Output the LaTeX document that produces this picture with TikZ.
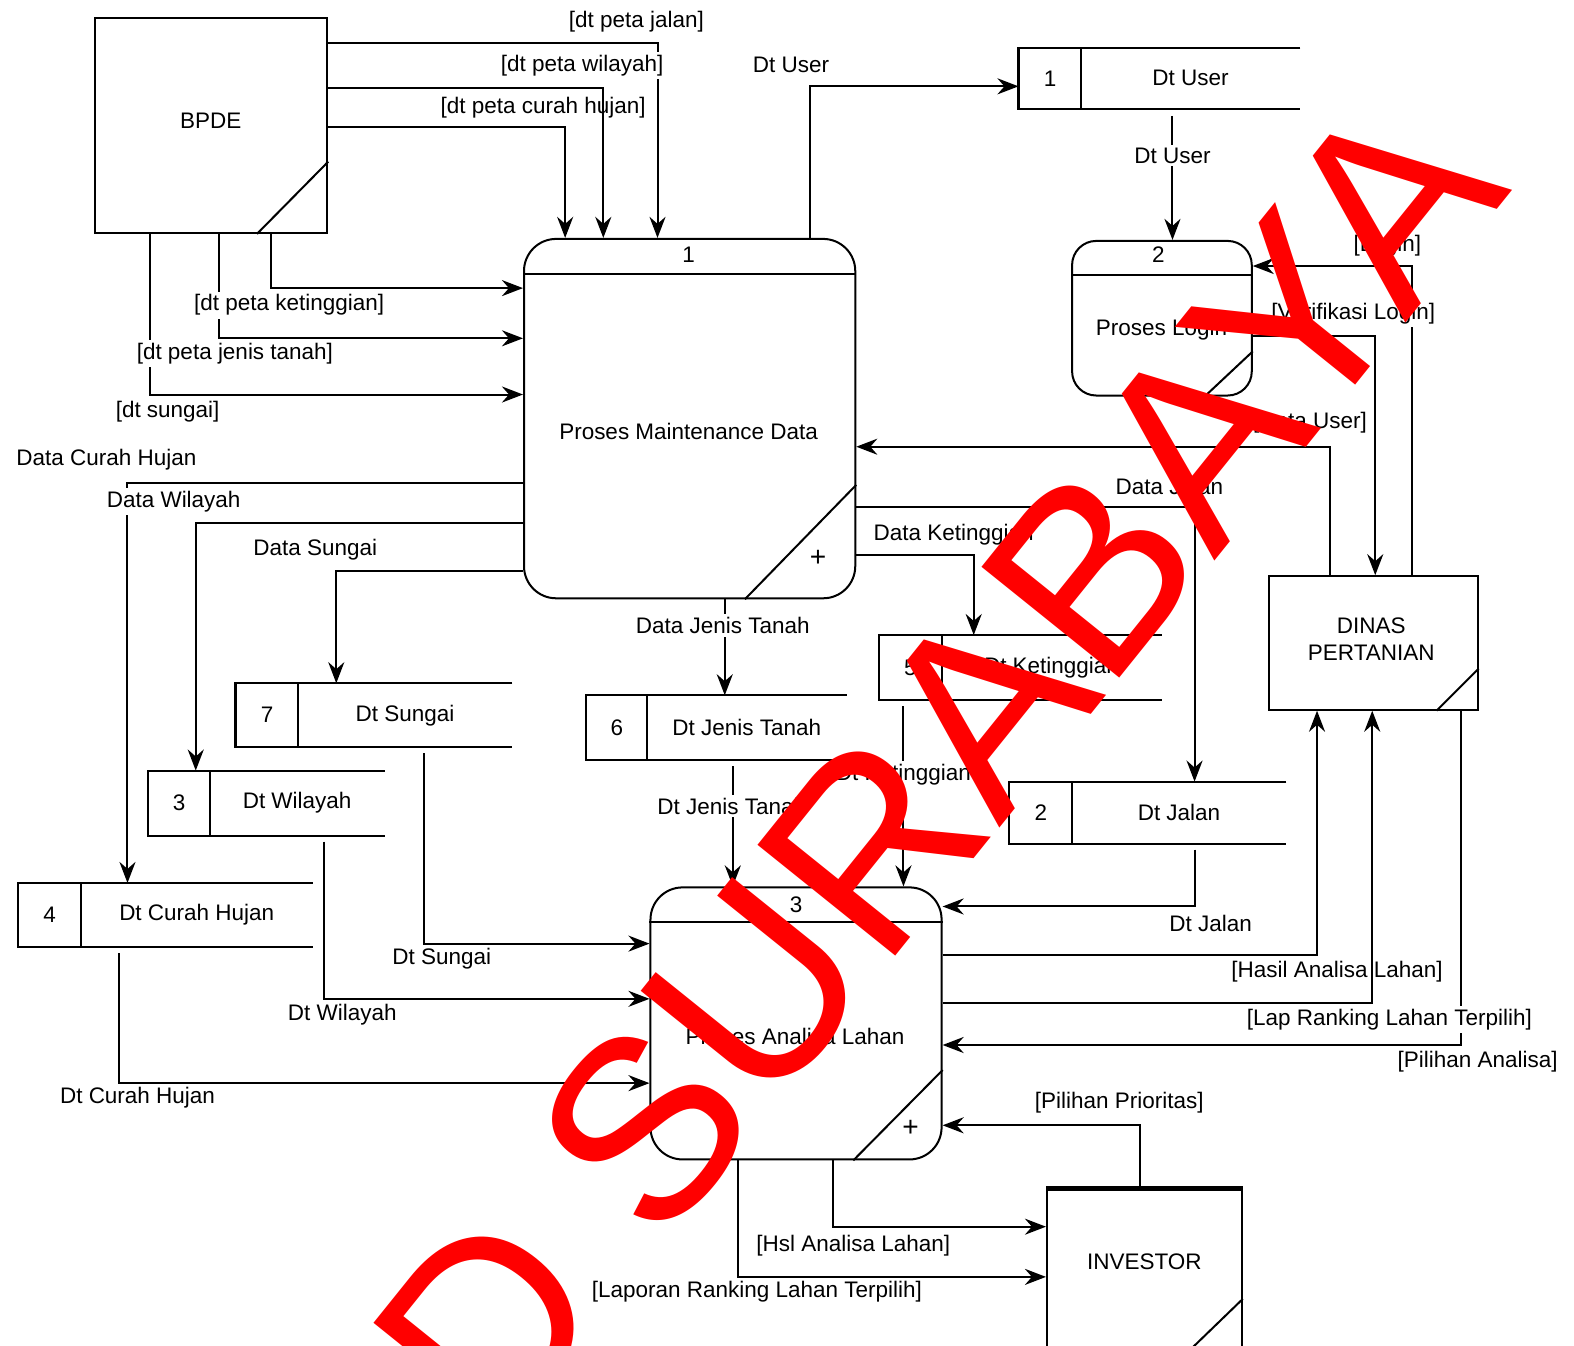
\documentclass[tikz,border=0pt]{standalone}
\usepackage{fontspec}
\setmainfont{Liberation Sans}
\usetikzlibrary{arrows.meta,calc}

% data store: name, left, divider, right, top, bottom, number, title
\newcommand\dstore[8]{%
  \node[minimum width={(#4-#2)*0.5pt}, minimum height={(#6-#5)*0.5pt}, inner sep=0pt]
    (#1) at ({(#2+#4)/2},{(#5+#6)/2}) {};
  \draw[ln] (#1.north east) -- (#1.north west) -- (#1.south west) -- (#1.south east);
  \draw[ln] (#1.north west -| #3,0) -- (#1.south west -| #3,0);
  \node (#1n) at ({(#2+#3)/2},{(#5+#6)/2}) {#7};
  \node (#1t) at ({(#3+#4)/2},{(#5+#6)/2}) {#8};
}

\begin{document}
\begin{tikzpicture}[x=0.5pt,y=-0.5pt,
  every node/.style={font=\fontsize{11.2}{13.5}\selectfont, text=black},
  ln/.style={line width=1pt},
  flow/.style={line width=1pt, -{Stealth[length=10.5pt,width=8pt,inset=3.5pt]}},
  lab/.style={inner sep=1pt},
  labw/.style={inner sep=1.5pt, fill=white},
  ent/.style={draw, line width=1pt, inner sep=0pt},
  proc/.style={draw, line width=1pt, inner sep=0pt},
]
\useasboundingbox (0,0) rectangle (1568,1340);
\clip (0,0) rectangle (1568,1340);

% ---------- external entities ----------
\node[ent, minimum width=115.5pt, minimum height=107pt] (bpde) at (210.5,125) {};
\node (bpdet) at (210,120) {BPDE};
\draw[ln] ($(bpde.south east)+(-71,0)$) -- ($(bpde.south east)+(0,-72)$);

\node[ent, minimum width=104pt, minimum height=66.5pt] (dinas) at (1368,640.5) {};
\node[align=center] (dinast) at (1366,637) {DINAS\\PERTANIAN};
\draw[ln] ($(dinas.south east)+(-42,0)$) -- ($(dinas.south east)+(0,-42)$);

\node[ent, minimum width=97pt, minimum height=107.5pt] (inv) at (1140,1292.5) {};
\node (invt) at (1140,1257) {INVESTOR};
\draw[line width=2.2pt] (inv.north west) -- (inv.north east);
\draw[ln] ($(inv.north east)+(0,110)$) -- ++(-60,58);

% ---------- processes ----------
\node[proc, rounded corners=16pt, minimum width=165pt, minimum height=179pt] (p1) at (687,417) {};
\draw[ln] (p1.west |- 0,273) -- (p1.east |- 0,273);
\node (p1n) at (686,254) {1};
\node (p1t) at (686,430) {Proses Maintenance Data};
\draw[ln] (p1.south -| 742,0) -- (p1.east |- 0,483);
\node (p1p) at (815,556) {\fontsize{14}{14}\selectfont +};

\node[proc, rounded corners=12pt, minimum width=89.5pt, minimum height=77pt] (p2) at (1157.5,317) {};
\draw[ln] (p2.west |- 0,274) -- (p2.east |- 0,274);
\node (p2n) at (1154,254) {2};
\node (p2t) at (1157,328) {Proses Login};
\draw[ln] (p2.south -| 1200,0) -- (p2.east |- 0,350);

\node[proc, rounded corners=16pt, minimum width=145pt, minimum height=135.5pt] (p3) at (793,1019.5) {};
\draw[ln] (p3.west |- 0,918) -- (p3.east |- 0,918);
\node (p3n) at (793,901) {3};
\node (p3t) at (792,1032) {Proses Analisa Lahan};
\draw[ln] (p3.south -| 850,0) -- (p3.east |- 0,1066);
\node (p3p) at (907,1124) {\fontsize{14}{14}\selectfont +};

% ---------- data stores ----------
\dstore{s1}{1015}{1077}{1295}{48}{108}{1}{Dt User}
\dstore{s7}{235}{297}{510}{681}{744}{7}{Dt Sungai}
\dstore{s3}{148}{209}{383}{768}{832}{3}{Dt Wilayah}
\dstore{s4}{18}{81}{311}{880}{943}{4}{Dt Curah Hujan}
\dstore{s6}{584}{645}{843}{693}{757}{6}{Dt Jenis Tanah}
\dstore{s5}{876}{938}{1157}{633}{697}{5}{Dt Ketinggian}
\dstore{s2}{1006}{1068}{1281}{779}{840}{2}{Dt Jalan}

% ---------- flows: BPDE to maintenance ----------
\node[lab] (l1) at (541,107) {[dt peta curah hujan]};
\draw[flow] (bpde.east |- 0,43) -| (p1.north -| 655,0);
\draw[flow] (bpde.east |- 0,88) -| (p1.north -| 601,0);
\draw[flow] (bpde.east |- 0,127) -| (p1.north -| 563,0);
\draw[flow] (bpde.south -| 270,0) |- (p1.west |- 0,287);
\draw[flow] (bpde.south -| 218,0) |- (p1.west |- 0,337);
\draw[flow] (bpde.south -| 149,0) |- (p1.west |- 0,393);
\node[labw] (l2) at (634,22) {[dt peta jalan]};
\node[labw] (l3) at (580,65) {[dt peta wilayah]};
\node[labw] (l4) at (288,304) {[dt peta ketinggian]};
\node[labw] (l5) at (234,352) {[dt peta jenis tanah]};
\node[labw] (l6) at (167,410) {[dt sungai]};

% ---------- user data ----------
\draw[flow] (p1.north -| 807,0) |- (s1.west |- 0,86);
\node[labw] (l7) at (788,65) {Dt User};
\draw[flow] ($(s1.south -| 1168,0)+(0,7)$) -- (p2.north -| 1168,0);
\node[labw] (l8) at (1168,155) {Dt User};

% ---------- maintenance to stores ----------
\draw[flow] (p1.west |- 0,481) -| (s4.north -| 127,0);
\draw[flow] (p1.west |- 0,521) -| (s3.north -| 195,0);
\draw[flow] (p1.west |- 0,569) -| (s7.north -| 335,0);
\draw[flow] (p1.south -| 722,0) -- (s6.north -| 722,0);
\draw[flow] (p1.east |- 0,505) -| (s2.north -| 1190,0);
\draw[flow] (p1.east |- 0,553) -| (s5.north -| 970,0);
\node[labw] (l9) at (106,458) {Data Curah Hujan};
\node[labw] (l10) at (173,500) {Data Wilayah};
\node[labw] (l11) at (314,548) {Data Sungai};
\node[labw] (l12) at (720,623) {Data Jenis Tanah};
\node[labw] (l13) at (1165,485) {Data Jalan};
\node[labw] (l14) at (950,533) {Data Ketinggian};

% ---------- DINAS PERTANIAN ----------
\draw[flow] (dinas.north -| 1325,0) |- (p1.east |- 0,445);
\draw[flow] (dinas.north -| 1407,0) |- (p2.east |- 0,265);
\draw[flow] (p2.east |- 0,335) -| (dinas.north -| 1370,0);
\node[labw] (l15) at (1305,421) {[Data User]};
\node[labw] (l16) at (1382,245) {[Login]};
\node[labw] (l17) at (1348,312) {[Verifikasi Login]};

% ---------- stores to analysis ----------
\draw[flow] ($(s7.south -| 422,0)+(0,6)$) |- (p3.west |- 0,940);
\draw[flow] ($(s3.south -| 323,0)+(0,6)$) |- (p3.west |- 0,995);
\draw[flow] ($(s4.south -| 119,0)+(0,6)$) |- (p3.west |- 0,1079);
\draw[flow] ($(s6.south -| 730,0)+(0,6)$) -- (p3.north -| 730,0);
\draw[flow] ($(s5.south -| 900,0)+(0,6)$) -- (p3.north -| 900,0);
\draw[flow] ($(s2.south -| 1190,0)+(0,6)$) |- (p3.east |- 0,903);
\node[lab] (l18) at (440,955) {Dt Sungai};
\node[lab] (l19) at (341,1011) {Dt Wilayah};
\node[lab] (l20) at (137,1093) {Dt Curah Hujan};
\node[labw] (l21) at (729,803) {Dt Jenis Tanah};
\node[labw] (l22) at (900,772) {Dt Ketinggian};
\node[lab] (l23) at (1206,920) {Dt Jalan};

% ---------- analysis results ----------
\draw[flow] (p3.east |- 0,951) -| (dinas.south -| 1312,0);
\draw[flow] (p3.east |- 0,999) -| (dinas.south -| 1367,0);
\draw[flow] (dinas.south -| 1455,0) |- (p3.east |- 0,1041);
\node[lab] (l24) at (1332,968) {[Hasil Analisa Lahan]};
\node[labw] (l25) at (1384,1016) {[Lap Ranking Lahan Terpilih]};
\node[lab] (l26) at (1472,1058) {[Pilihan Analisa]};

\draw[flow] (inv.north -| 1136,0) |- (p3.east |- 0,1121);
\draw[flow] (p3.south -| 830,0) |- (inv.west |- 0,1222);
\draw[flow] (p3.south -| 735,0) |- (inv.west |- 0,1272);
\node[lab] (l27) at (1115,1098) {[Pilihan Prioritas]};
\node[lab] (l28) at (850,1241) {[Hsl Analisa Lahan]};
\node[lab] (l29) at (754,1287) {[Laporan Ranking Lahan Terpilih]};

% ---------- watermark ----------
\node[text={rgb,255:red,255;green,0;blue,0}, font=\fontsize{128}{128}\selectfont,
  rotate=51.2, inner sep=0pt] (wm) at (933,762) {D SURABAYA};
\end{tikzpicture}
\end{document}
